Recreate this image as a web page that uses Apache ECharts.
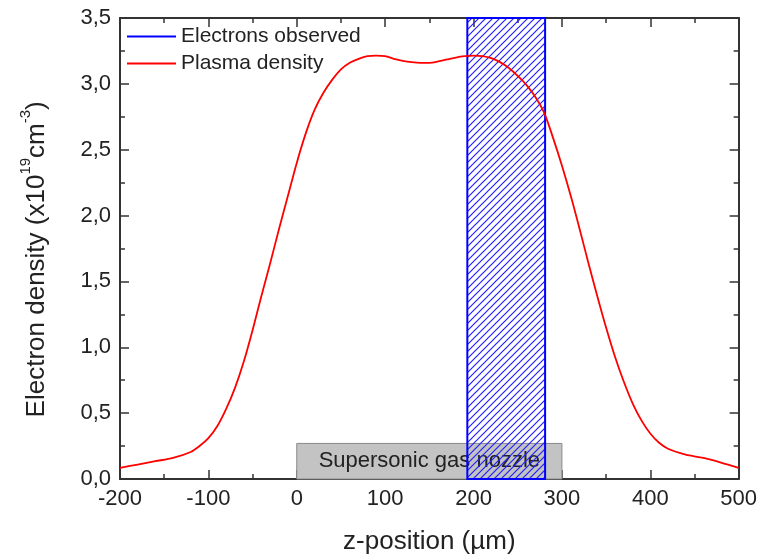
<!DOCTYPE html>
<html>
<head>
<meta charset="utf-8">
<script src="https://cdn.jsdelivr.net/npm/echarts@6/dist/echarts.min.js"></script>
<style>
  html, body { margin: 0; padding: 0; background: #fff; }
  #main { width: 760px; height: 560px; }
</style>
</head>
<body>
<div id="main"></div>
<script>
// plasma density profile, z in um, density in 1e19 cm^-3
var zPos = [-200, -180, -160, -140, -120, -110, -100, -90, -80, -70, -60, -50, -40, -30, -20, -10,
    0, 10, 20, 30, 40, 50, 60, 70, 80, 90, 100, 110, 120, 130, 140, 150, 160, 170, 180, 190,
    200, 210, 220, 230, 240, 250, 260, 270, 280, 290, 300, 310, 320, 330, 340, 350, 360, 370,
    380, 390, 400, 410, 420, 440, 460, 480, 500];
var density = [0.085, 0.11, 0.135, 0.16, 0.205, 0.25, 0.31, 0.40, 0.53, 0.69, 0.89, 1.13, 1.39, 1.64, 1.90, 2.15,
    2.40, 2.62, 2.80, 2.93, 3.03, 3.11, 3.16, 3.19, 3.21, 3.215, 3.21, 3.19, 3.175, 3.165, 3.16, 3.16, 3.17, 3.185, 3.20, 3.21,
    3.215, 3.21, 3.195, 3.165, 3.12, 3.06, 2.99, 2.90, 2.78, 2.59, 2.38, 2.15, 1.90, 1.64, 1.39, 1.15, 0.93, 0.74,
    0.575, 0.445, 0.345, 0.275, 0.23, 0.185, 0.16, 0.125, 0.085];

var electronsRange = [193, 281];
var nozzleRange = [0, 300];
var nozzleTop = 0.27;
var xTicks = [-200, -100, 0, 100, 200, 300, 400, 500];
var yTicks = [0, 0.5, 1.0, 1.5, 2.0, 2.5, 3.0, 3.5];

var lineData = [];
for (var i = 0; i < zPos.length; i++) {
    lineData.push([zPos[i], density[i]]);
}

// hatch pattern for the electrons box
function makeHatch() {
    var c = document.createElement('canvas');
    c.width = 7;
    c.height = 7;
    var ctx = c.getContext('2d');
    ctx.strokeStyle = '#2222ff';
    ctx.lineWidth = 1.2;
    ctx.beginPath();
    ctx.moveTo(-1, 8); ctx.lineTo(8, -1);
    ctx.moveTo(-1, 1); ctx.lineTo(1, -1);
    ctx.moveTo(6, 8); ctx.lineTo(8, 6);
    ctx.stroke();
    return c;
}
var hatch = makeHatch();

var font = 'Liberation Sans, Arial, sans-serif';
var ink = '#222';

var myChart = echarts.init(document.getElementById('main'));

var tickFmt = function (v) { return v.toFixed(1).replace('.', ','); };

function frameAxis(extra) {
    var base = {
        type: 'value',
        axisLine: { show: true, onZero: false, lineStyle: { color: '#333', width: 2 } },
        axisTick: { inside: true, length: 9, lineStyle: { color: '#333', width: 1.5 } },
        minorTick: { show: true, splitNumber: 2, length: 5, lineStyle: { color: '#333', width: 1.5 } },
        splitLine: { show: false }
    };
    for (var k in extra) base[k] = extra[k];
    return base;
}

var option = {
    animation: false,
    backgroundColor: '#fff',
    textStyle: { fontFamily: font },
    grid: { left: 120, right: 20, top: 18, bottom: 80 },
    legend: {
        orient: 'vertical',
        left: 122,
        top: 21,
        itemWidth: 49,
        itemHeight: 2,
        itemGap: 6,
        textStyle: { fontSize: 21, color: ink, fontFamily: font },
        data: [
            { name: 'Electrons observed', icon: 'rect', itemStyle: { color: '#0000ff' } },
            { name: 'Plasma density', icon: 'rect', itemStyle: { color: '#ff0000' } }
        ]
    },
    xAxis: [frameAxis({
        min: -200,
        max: 500,
        interval: 100,
        name: 'z-position (\u00b5m)',
        nameLocation: 'middle',
        nameGap: 50,
        nameTextStyle: { fontSize: 26, color: ink, fontFamily: font },
        axisLabel: { fontSize: 22, color: ink, margin: 9,
            formatter: function (v) { return xTicks.indexOf(v) >= 0 ? String(v) : ''; } }
    }), frameAxis({
        position: 'top',
        min: -200,
        max: 500,
        interval: 100,
        axisLabel: { show: false }
    })],
    yAxis: [frameAxis({
        min: 0,
        max: 3.5,
        interval: 0.5,
        // trailing blank token nudges the centred name down a little
        name: '{a|Electron density (x10}{s|19}{a|cm}{s|-3}{a|)}{a|\u00a0\u00a0\u00a0}',
        nameLocation: 'middle',
        nameRotate: 90,
        nameGap: 70,
        nameTextStyle: {
            rich: {
                a: { fontSize: 26, color: ink, fontFamily: font, lineHeight: 32, verticalAlign: 'bottom' },
                s: { fontSize: 15, color: ink, fontFamily: font, lineHeight: 32, verticalAlign: 'top' }
            }
        },
        axisLabel: { fontSize: 22, color: ink, margin: 9,
            formatter: function (v) { return yTicks.indexOf(v) >= 0 ? tickFmt(v) : ''; } }
    }), frameAxis({
        position: 'right',
        min: 0,
        max: 3.5,
        interval: 0.5,
        axisLabel: { show: false }
    })],
    series: [
        {
            // gas nozzle box
            type: 'custom',
            name: 'nozzle',
            z: 1,
            silent: true,
            data: [[nozzleRange[0], 0, nozzleRange[1], nozzleTop]],
            renderItem: function (params, api) {
                var p0 = api.coord([api.value(0), api.value(3)]);
                var p1 = api.coord([api.value(2), api.value(1)]);
                return {
                    type: 'rect',
                    shape: { x: p0[0], y: p0[1], width: p1[0] - p0[0], height: p1[1] - p0[1] },
                    style: { fill: '#c3c3c3', stroke: '#8a8a8a', lineWidth: 1 },
                    textContent: {
                        style: { text: 'Supersonic gas nozzle', fill: ink, fontSize: 22, fontFamily: font }
                    },
                    textConfig: { position: 'inside' }
                };
            }
        },
        {
            type: 'custom',
            name: 'Electrons observed',
            z: 2,
            silent: true,
            itemStyle: { color: '#0000ff' },
            data: [[electronsRange[0], 0, electronsRange[1], 3.5]],
            renderItem: function (params, api) {
                var p0 = api.coord([api.value(0), api.value(3)]);
                var p1 = api.coord([api.value(2), api.value(1)]);
                return {
                    type: 'rect',
                    shape: { x: p0[0], y: p0[1], width: p1[0] - p0[0], height: p1[1] - p0[1] },
                    style: {
                        fill: { image: hatch, repeat: 'repeat' },
                        stroke: '#0000ff',
                        lineWidth: 2
                    }
                };
            }
        },
        {
            type: 'line',
            name: 'Plasma density',
            z: 3,
            smooth: 0.3,
            showSymbol: false,
            data: lineData,
            lineStyle: { color: '#ff0000', width: 1.8 },
            itemStyle: { color: '#ff0000' }
        }
    ]
};

myChart.setOption(option);
</script>
</body>
</html>
